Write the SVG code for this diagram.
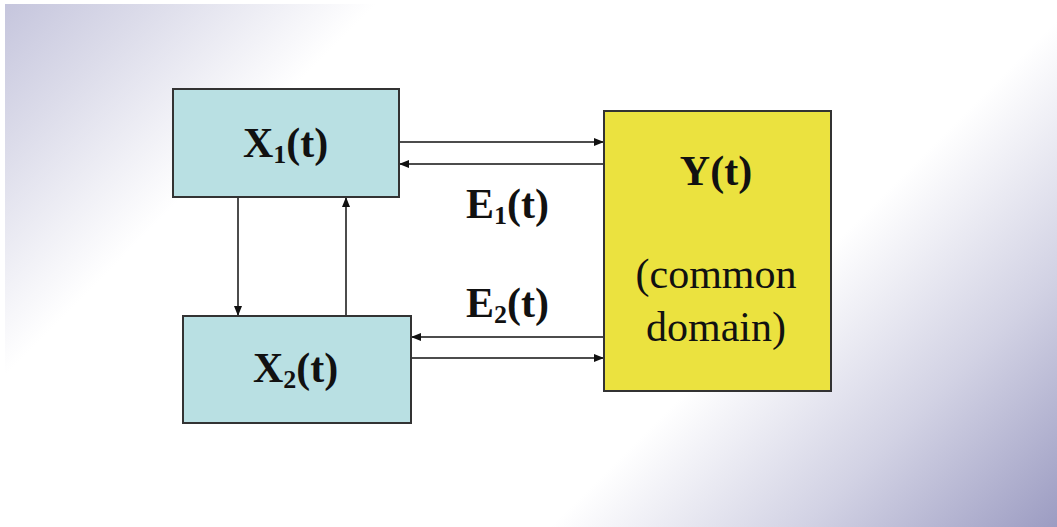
<svg xmlns="http://www.w3.org/2000/svg" width="1057" height="527" viewBox="0 0 1057 527">
<defs>
<linearGradient id="bg" gradientUnits="userSpaceOnUse" x1="0" y1="0" x2="792" y2="792">
<stop offset="0" stop-color="#c4c4dc"/>
<stop offset="0.1" stop-color="#dcdcea"/>
<stop offset="0.24" stop-color="#ffffff"/>
<stop offset="0.68" stop-color="#ffffff"/>
<stop offset="0.84" stop-color="#d2d2e4"/>
<stop offset="1" stop-color="#9c9cc2"/>
</linearGradient>
<marker id="ah" viewBox="0 0 10 8" refX="10" refY="4" markerWidth="10" markerHeight="8" markerUnits="userSpaceOnUse" orient="auto">
<path d="M0,0 L10,4 L0,8 Z" fill="#111"/>
</marker>
<style>
.box{stroke:#333;stroke-width:2}
.x{fill:#b9e0e3}
.y{fill:#ebe23f}
.c{stroke:#111;stroke-width:1.5;fill:none;marker-end:url(#ah)}
.b{font-family:"Liberation Serif","Times New Roman",serif;font-weight:bold;font-size:42px;fill:#111}
.r{font-family:"Liberation Serif","Times New Roman",serif;font-size:42px;fill:#111}
.s{font-size:26px}
</style>
</defs>
<rect x="0" y="0" width="1057" height="527" fill="#ffffff"/>
<rect x="5" y="4" width="1052" height="523" fill="url(#bg)"/>
<g id="connectors">
<line class="c" x1="399" y1="142" x2="604" y2="142"/>
<line class="c" x1="604" y1="164" x2="399" y2="164"/>
<line class="c" x1="604" y1="337" x2="411" y2="337"/>
<line class="c" x1="411" y1="358" x2="604" y2="358"/>
<line class="c" x1="238" y1="197" x2="238" y2="316"/>
<line class="c" x1="346" y1="316" x2="346" y2="197"/>
<text class="b" x="466" y="218">E<tspan class="s" dy="6">1</tspan><tspan dy="-6">(t)</tspan></text>
<text class="b" x="466" y="317">E<tspan class="s" dy="6">2</tspan><tspan dy="-6">(t)</tspan></text>
</g>
<g id="x1">
<rect class="box x" x="173" y="89" width="226" height="108"/>
<text class="b" x="243" y="157">X<tspan class="s" dy="6">1</tspan><tspan dy="-6">(t)</tspan></text>
</g>
<g id="x2">
<rect class="box x" x="183" y="316" width="228" height="107"/>
<text class="b" x="253" y="382">X<tspan class="s" dy="6">2</tspan><tspan dy="-6">(t)</tspan></text>
</g>
<g id="y">
<rect class="box y" x="604" y="111" width="227" height="280"/>
<text class="b" x="716" y="185" text-anchor="middle">Y(t)</text>
<text class="r" x="716" y="288" text-anchor="middle">(common</text>
<text class="r" x="716" y="341" text-anchor="middle">domain)</text>
</g>
</svg>
